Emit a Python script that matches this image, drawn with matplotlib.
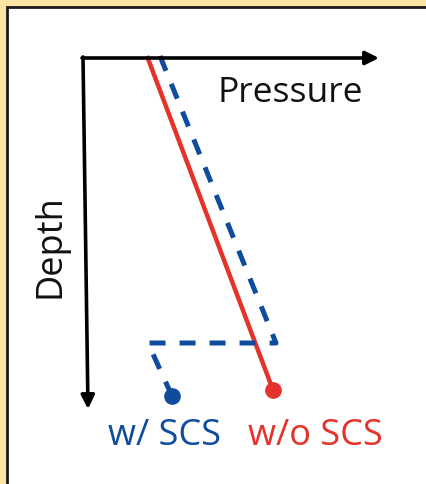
import matplotlib
matplotlib.use('Agg')
import matplotlib.pyplot as plt
from matplotlib.patches import Rectangle

# Schematic values, measured from the axes corner (pressure right, depth down)
red_pressure = [64, 190]
red_depth = [-2, 332]
blue_pressure = [77, 193, 65, 89]
blue_depth = [-2, 285, 285, 338]
labels = ['w/ SCS', 'w/o SCS']
label_pressure = [82, 232]

red = '#E5322B'
blue = '#0F4C9E'

plt.rcParams['font.family'] = ['Open Sans', 'DejaVu Sans']

fig = plt.figure(figsize=(4.27, 4.84), dpi=100)
fig.patch.set_facecolor('#FDE2A6')
ax = fig.add_axes([0, 0, 1, 1])
ax.set_xlim(-83, 427 - 83)
ax.set_ylim(484 - 58, -58)
ax.axis('off')

# White panel with dark border
ax.add_patch(Rectangle((-76, -51), 520, 520, facecolor='white',
                       edgecolor='#1a1a1a', linewidth=2, zorder=0))

# Axes arrows
arrow_kw = dict(arrowstyle='-|>', color='black', lw=2.6, mutation_scale=20,
                shrinkA=0, shrinkB=0)
ax.annotate('', xy=(296, 0), xytext=(-1, 0), arrowprops=arrow_kw)
ax.annotate('', xy=(5, 351), xytext=(0, -1), arrowprops=arrow_kw)

ax.text(207, 35, 'Pressure', fontsize=25.5, ha='center', va='center', color='#111111')
ax.text(-32, 188, 'Depth', fontsize=26, ha='center', va='center',
        rotation=90, color='#111111')

# Profiles
ax.plot(red_pressure, red_depth, color=red, lw=3.2, solid_capstyle='butt')
ax.plot(red_pressure[-1], red_depth[-1], 'o', color=red, ms=11)
ax.plot(blue_pressure, blue_depth, color=blue, lw=3.6, dashes=(3.2, 2.8),
        solid_joinstyle='miter')
ax.plot(blue_pressure[-1], blue_depth[-1], 'o', color=blue, ms=11)

ax.text(label_pressure[0], 378, labels[0], fontsize=26, ha='center',
        va='center', color=blue)
ax.text(label_pressure[1], 378, labels[1], fontsize=26, ha='center',
        va='center', color=red)

fig.savefig('out.png', dpi=100, facecolor=fig.get_facecolor())
